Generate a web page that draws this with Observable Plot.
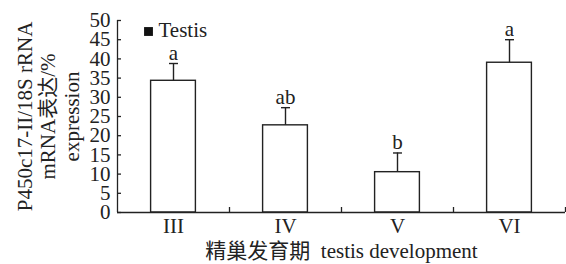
<!DOCTYPE html>
<html>
<head>
<meta charset="utf-8">
<script src="https://cdn.jsdelivr.net/npm/d3@7"></script>
<script src="https://cdn.jsdelivr.net/npm/@observablehq/plot@0.6"></script>
<style>
  html, body { margin: 0; padding: 0; background: #fff; }
</style>
</head>
<body>
<div id="chart"></div>
<script>
const categories = ["III", "IV", "V", "VI"];
const values = [34.3, 22.7, 10.5, 39.0];
const errors = [4.5, 4.6, 5.0, 6.0];
const letters = ["a", "ab", "b", "a"];
const yTicks = [0, 5, 10, 15, 20, 25, 30, 35, 40, 45, 50];
const legendLabel = "Testis";
const yTitle = ["P450c17-II/18S rRNA", "mRNA表达/%", "expression"];
const xTitle = "精巢发育期\u00a0\u00a0testis development";

const W = 566, H = 264;
const mL = 117, mR = 1, mT = 20, mB = 52;
const plotW = W - mL - mR, plotH = H - mT - mB;
const font = "'Liberation Serif', 'Times New Roman', 'Noto Sans CJK SC', serif";
const fs = 21;
const ink = "#222";

const data = categories.map((c, i) => ({c, i, v: values[i], e: errors[i], l: letters[i]}));

const chart = Plot.plot({
  width: W,
  height: H,
  marginLeft: mL,
  marginRight: mR,
  marginTop: mT,
  marginBottom: mB,
  style: {fontFamily: font, fontSize: fs + "px", background: "white", color: ink},
  x: {domain: [0, categories.length], axis: null},
  y: {domain: [0, 50], axis: null},
  marks: [
    // bars
    Plot.rectY(data, {x1: d => d.i + 0.3, x2: d => d.i + 0.7, y1: 0, y2: "v", fill: "white", stroke: ink, strokeWidth: 1.4}),
    // error bars
    Plot.ruleX(data, {x: d => d.i + 0.5, y1: "v", y2: d => d.v + d.e, stroke: ink, strokeWidth: 1.4}),
    Plot.link(data, {x1: d => d.i + 0.46, x2: d => d.i + 0.54, y1: d => d.v + d.e, y2: d => d.v + d.e, stroke: ink, strokeWidth: 1.4}),
    // letters
    Plot.text(data, {x: d => d.i + 0.5, y: d => d.v + d.e, text: "l", dy: -4, lineAnchor: "bottom", fontSize: fs, fill: ink, fontFamily: font}),
    // axes lines
    Plot.ruleX([0], {stroke: ink, strokeWidth: 1.3}),
    Plot.ruleY([0], {stroke: ink, strokeWidth: 1.3}),
    // inward y ticks
    Plot.tickY(yTicks, {y: d => d, insetRight: plotW - 4, stroke: ink, strokeWidth: 1.3}),
    // inward x ticks at band boundaries
    Plot.tickX(d3.range(1, categories.length + 1), {x: d => d, insetTop: plotH - 5, stroke: ink, strokeWidth: 1.3}),
    // y tick labels
    Plot.axisY({ticks: yTicks, tickSize: 0, tickPadding: 7, fontSize: fs, fontFamily: font, fill: ink, label: null}),
    // x tick labels
    Plot.axisX({ticks: categories.map((c, i) => i + 0.5), tickFormat: t => categories[Math.floor(t)], tickSize: 0, tickPadding: 6, fontSize: fs, fontFamily: font, fill: ink, label: null}),
    // legend
    Plot.dot([legendLabel], {frameAnchor: "top-left", dx: 31, dy: 11, symbol: "square", r: 5, fill: "#111", stroke: null}),
    Plot.text([legendLabel], {frameAnchor: "top-left", dx: 41, dy: 10, text: d => d, textAnchor: "start", lineAnchor: "middle", fontSize: fs, fontFamily: font, fill: ink}),
    // y title (three lines)
    ...yTitle.map((t, k) => Plot.text([t], {frameAnchor: "left", dx: [25, 48, 72][k] - mL, text: d => d, rotate: -90, textAnchor: "middle", lineAnchor: "middle", fontSize: fs, fontFamily: font, fill: ink})),
    // x title
    Plot.text([xTitle], {frameAnchor: "bottom", dy: 45, text: d => d, textAnchor: "middle", lineAnchor: "bottom", fontSize: fs, fontFamily: font, fill: ink})
  ]
});
document.getElementById("chart").appendChild(chart);
</script>
</body>
</html>
